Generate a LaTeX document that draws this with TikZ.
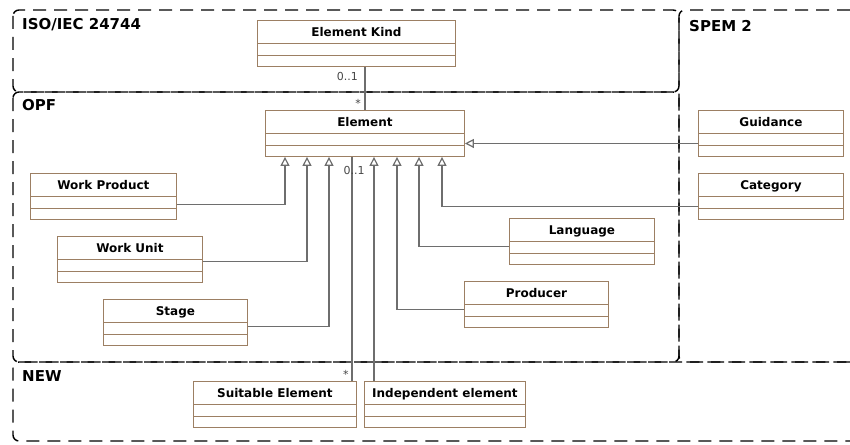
\documentclass[tikz,border=0pt]{standalone}
\usepackage{fontspec}
\setmainfont{DejaVu Sans}
\usepackage{tikz}
\usetikzlibrary{positioning, calc, arrows.meta}

\definecolor{umlbrown}{RGB}{156,127,99}
\definecolor{linkgray}{RGB}{110,110,110}
\definecolor{multgray}{RGB}{70,70,70}

\tikzset{
    umlclass/.style={draw=umlbrown, line width=0.9pt, fill=white, anchor=north west,
        inner sep=0pt, text height=16pt, text depth=30pt,
        font=\bfseries\fontsize{12}{14}\selectfont,
        path picture={
            \draw[umlbrown, line width=0.9pt]
                ([yshift=-23pt]path picture bounding box.north west) -- ([yshift=-23pt]path picture bounding box.north east)
                ([yshift=-35pt]path picture bounding box.north west) -- ([yshift=-35pt]path picture bounding box.north east);
        }},
    region/.style={draw=black, line width=1.4pt, dash pattern=on 13pt off 8pt, rounded corners=6pt},
    regionlabel/.style={anchor=north west, inner sep=0pt, font=\bfseries\fontsize{15}{18}\selectfont},
    genline/.style={draw=linkgray, line width=1.2pt, -{Triangle[open, length=9pt, width=9pt, fill=white]}},
    assocline/.style={draw=linkgray, line width=1.2pt},
    mult/.style={inner sep=0pt, text=multgray, font=\fontsize{11}{13}\selectfont}
}

\begin{document}
\begin{tikzpicture}[x=1pt, y=-1pt]
        \useasboundingbox (0,0) rectangle (850,444);

        % the regions
        \draw [region] (13,10) rectangle (679,92);
        \draw [region] (850,10) -- (679,10) -- (679,362) -- (850,362);
        \draw [region] (13,92) rectangle (679,362);
        \draw [region] (850,362) -- (13,362) -- (13,441) -- (850,441);

        \node[regionlabel] (isolabel)  at (22,18)  {ISO/IEC 24744};
        \node[regionlabel] (spemlabel) at (689,20) {SPEM 2};
        \node[regionlabel] (opflabel)  at (22,99)  {OPF};
        \node[regionlabel] (newlabel)  at (22,370) {NEW};

        % the classes
        \node[umlclass, minimum width=198pt] (ek) at (257,20)  {Element Kind};
        \node[umlclass, minimum width=199pt] (el) at (265,110) {Element};
        \node[umlclass, minimum width=145pt] (gd) at (698,110) {Guidance};
        \node[umlclass, minimum width=145pt] (ct) at (698,173) {Category};
        \node[umlclass, minimum width=146pt] (wp) at (30,173)  {Work Product};
        \node[umlclass, minimum width=145pt] (wu) at (57,236)  {Work Unit};
        \node[umlclass, minimum width=144pt] (st) at (103,299) {Stage};
        \node[umlclass, minimum width=145pt] (lg) at (509,218) {Language};
        \node[umlclass, minimum width=144pt] (pr) at (464,281) {Producer};
        \node[umlclass, minimum width=163pt] (se) at (193,381) {Suitable Element};
        \node[umlclass, minimum width=161pt] (ie) at (364,381) {Independent element};

        % association to Element Kind
        \draw [assocline] (ek.south -| el.north) -- (el.north);
        \node[mult, anchor=north east] (ekone)  at ([xshift=-7pt,yshift=-5pt]ek.south -| el.north) {0..1};
        \node[mult, anchor=south east] (ekmany) at ([xshift=-4pt,yshift=2pt]el.north) {*};

        % generalizations
        \draw [genline] ([yshift=-8pt]wp.east) -| ([xshift=20pt]el.south west);
        \draw [genline] ([yshift=-2pt]wu.east) -| ([xshift=42pt]el.south west);
        \draw [genline] ([yshift=-4pt]st.east) -| ([xshift=64pt]el.south west);
        \draw [genline] ([xshift=10pt]ie.north west) -- ([xshift=10pt]ie.north west |- el.south);
        \draw [genline] ([yshift=-5pt]pr.west) -| ([xshift=132pt]el.south west);
        \draw [genline] ([yshift=-5pt]lg.west) -| ([xshift=154pt]el.south west);
        \draw [genline] ([yshift=-10pt]ct.west) -| ([xshift=177pt]el.south west);
        \draw [genline] ([yshift=-10pt]gd.west) -- ([yshift=-10pt]el.east);

        % association to Suitable Element
        \draw [assocline] ([xshift=87pt]el.south west) -- ([xshift=87pt]el.south west |- se.north);
        \node[mult, anchor=north] (seone)  at ([xshift=89pt,yshift=-9pt]el.south west) {0..1};
        \node[mult, anchor=south east] (semany) at ([xshift=-8pt,yshift=2pt]se.north east) {*};
    \end{tikzpicture}
\end{document}
